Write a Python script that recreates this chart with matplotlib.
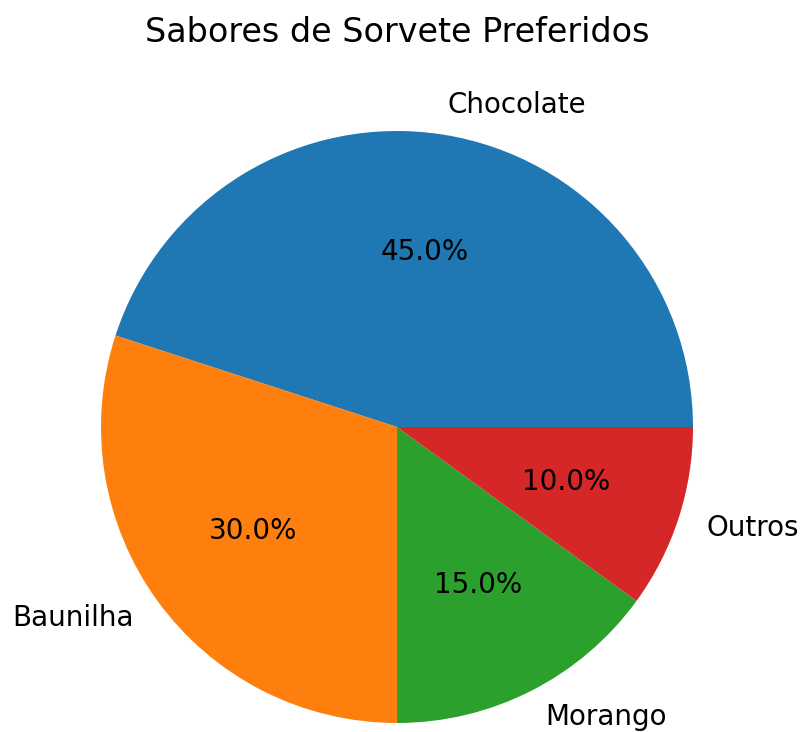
import matplotlib
matplotlib.use("Agg")
import matplotlib.pyplot as plt

# data
sabores = ["Chocolate", "Baunilha", "Morango", "Outros"]
porcentagens = [45, 30, 15, 10]

fig = plt.figure(figsize=(8.03 / 2, 7.32 / 2), dpi=200)
ax = fig.add_axes([27 / 803, (305 - 370) / 732, 740 / 803, 740 / 732])

ax.pie(porcentagens, labels=sabores, autopct="%1.1f%%")
ax.set_xlim(-1.25, 1.25)
ax.set_ylim(-1.25, 1.25)

fig.text(397 / 803, 1 - 32 / 732, "Sabores de Sorvete Preferidos",
         ha="center", va="center", fontsize=12)

fig.savefig("out.png", dpi=200)
